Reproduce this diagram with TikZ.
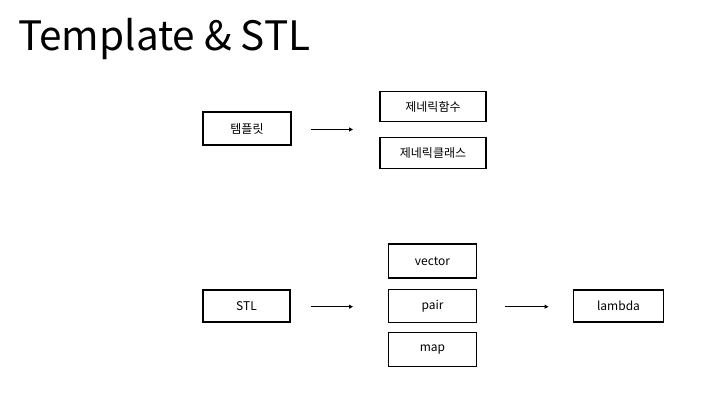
\documentclass[tikz,border=0pt]{standalone}
\usepackage{fontspec}
\setmainfont{Noto Sans CJK KR}
\usetikzlibrary{arrows.meta}
\begin{document}
\begin{tikzpicture}[x=1pt,y=-1pt,
  box/.style={draw=black,line width=1.6pt,inner sep=0pt,font=\fontsize{12}{14}\selectfont},
  conn/.style={line width=1.3pt,-{Triangle[length=4pt,width=4pt]}}]
\useasboundingbox (0,0) rectangle (720,405);
\node[anchor=base west,inner sep=0pt,font=\fontsize{40.5}{46}\selectfont] (title) at (18,50) {Template \& STL};
% top group
\node[box,minimum width=88pt,minimum height=33pt] (tpl) at (247,128.5) {템플릿};
\node[box,minimum width=106pt,minimum height=30pt] (gf) at (433,106.5) {제네릭함수};
\node[box,minimum width=106pt,minimum height=31pt] (gc) at (433,153) {제네릭클래스};
\coordinate (a1s) at (310.5,129.5);
\coordinate (a1e) at (353,129.5);
\draw[conn] (a1s) -- (a1e);
% bottom group
\node[box,minimum width=87pt,minimum height=32pt] (stl) at (246.5,306) {STL};
\node[box,minimum width=88pt,minimum height=34pt] (vec) at (432.5,261) {vector};
\node[box,minimum width=88pt,minimum height=33pt] (pair) at (432.5,306) {pair};
\node[box,minimum width=88pt,minimum height=34pt] (map) at (432.5,349.5) {map};
\node[box,minimum width=90pt,minimum height=32pt] (lam) at (618.5,306) {lambda};
\coordinate (a2s) at (310.5,306.7);
\coordinate (a2e) at (353,306.7);
\coordinate (a3s) at (505,306.7);
\coordinate (a3e) at (548.5,306.7);
\draw[conn] (a2s) -- (a2e);
\draw[conn] (a3s) -- (a3e);
\end{tikzpicture}
\end{document}
